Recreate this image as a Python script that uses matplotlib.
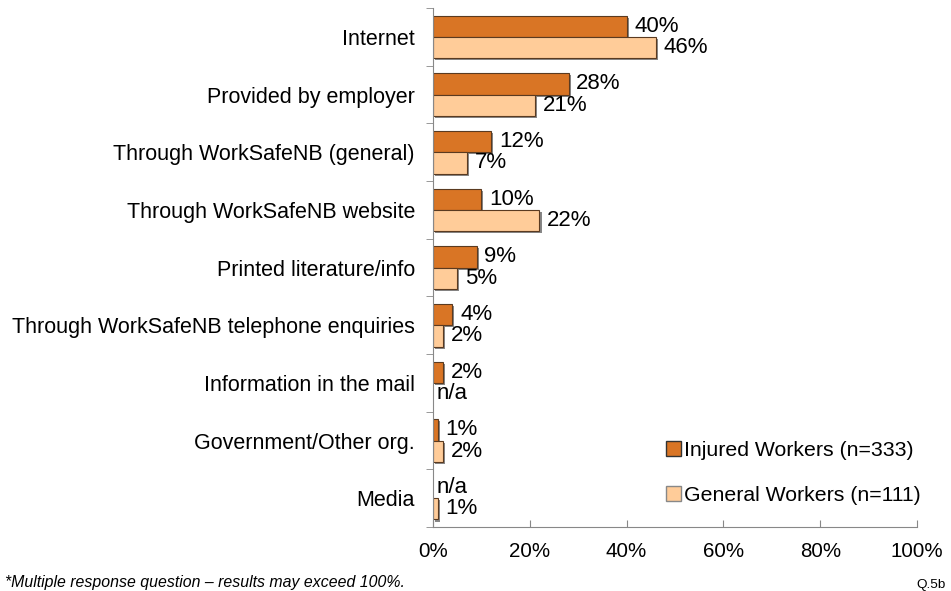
import numpy as np
import matplotlib.pyplot as plt
import matplotlib.patheffects as pe
from matplotlib.patches import Patch

# Источники информации
categories = ["Internet", "Provided by employer", "Through WorkSafeNB (general)",
              "Through WorkSafeNB website", "Printed literature/info",
              "Through WorkSafeNB telephone enquiries", "Information in the mail",
              "Government/Other org.", "Media"]
injured = [40, 28, 12, 10, 9, 4, 2, 1, None]
general = [46, 21, 7, 22, 5, 2, None, 2, 1]
series_names = ["Injured Workers (n=333)", "General Workers (n=111)"]
xticks = [0, 20, 40, 60, 80, 100]

plt.rcParams['font.family'] = ['Liberation Sans', 'DejaVu Sans']

fig = plt.figure(figsize=(9.51, 5.91), dpi=100)
ax = fig.add_axes([0.4553, 0.1083, 0.509, 0.878])

c_dark = '#D97525'
c_light = '#FFCC99'
shadow = [pe.SimplePatchShadow(offset=(1.5, -1.5), shadow_rgbFace='#555555', alpha=0.7), pe.Normal()]

y = np.arange(len(categories))
h = 0.37
for vals, off, col in [(injured, -h / 2, c_dark), (general, h / 2, c_light)]:
    for yi, v in zip(y, vals):
        if v is None:
            ax.text(0.8, yi + off, 'n/a', va='center', ha='left', fontsize=16)
            continue
        b = ax.barh(yi + off, v, height=h, color=col, edgecolor='#5a3a20', linewidth=0.8)
        b[0].set_path_effects(shadow)
        ax.text(v + 1.6, yi + off, f'{v}%', va='center', ha='left', fontsize=16)

ax.set_ylim(len(categories) - 0.5, -0.5)
ax.set_xlim(0, 100)
ax.set_yticks(y)
ax.set_yticklabels(categories, fontsize=15.5)
ax.set_yticks(np.arange(-0.5, len(categories), 1), minor=True)
ax.tick_params(axis='y', which='major', length=0, pad=13)
ax.tick_params(axis='y', which='minor', length=5, color='#888888', direction='out')
ax.set_xticks(xticks)
ax.set_xticklabels([f'{t}%' for t in xticks], fontsize=14.8)
ax.tick_params(axis='x', length=5, direction='in', color='#888888', pad=11)
for s in ['top', 'right']:
    ax.spines[s].set_visible(False)
for s in ['left', 'bottom']:
    ax.spines[s].set_color('#888888')

handles = [Patch(facecolor=c_dark, edgecolor='#333333'), Patch(facecolor=c_light, edgecolor='#888888')]
ax.legend(handles, series_names, loc='lower right', bbox_to_anchor=(1.048, 0.005), frameon=False,
          fontsize=15.3, handlelength=0.7, handleheight=0.7, handletextpad=0.15, labelspacing=1.25)

fig.text(0.005, 0.007, '*Multiple response question \u2013 results may exceed 100%.', fontsize=11.4, style='italic')
fig.text(0.995, 0.005, 'Q.5b', fontsize=9.7, ha='right')

fig.savefig('out.png', dpi=100)
